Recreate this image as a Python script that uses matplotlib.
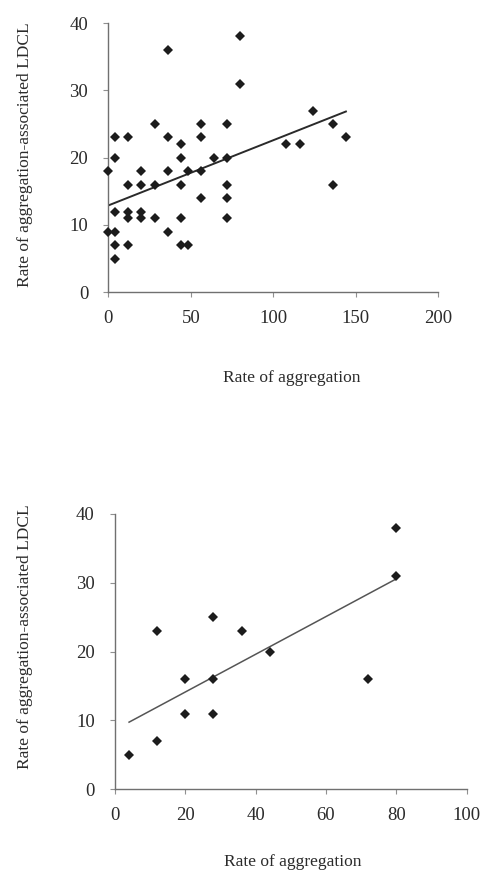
import matplotlib
matplotlib.use("Agg")
import matplotlib.pyplot as plt

# --- donnees ---
# graphe du haut
agg_top = [80, 36, 80, 28, 56, 72, 4, 12, 36, 56, 44, 108, 116, 124, 136, 144, 136,
           4, 44, 64, 72, 0, 20, 36, 48, 56, 12, 20, 28, 44, 72, 56, 72,
           4, 12, 20, 12, 20, 28, 44, 72, 0, 4, 36, 4, 12, 44, 48, 4]
ldcl_top = [38, 36, 31, 25, 25, 25, 23, 23, 23, 23, 22, 22, 22, 27, 25, 23, 16,
            20, 20, 20, 20, 18, 18, 18, 18, 18, 16, 16, 16, 16, 16, 14, 14,
            12, 12, 12, 11, 11, 11, 11, 11, 9, 9, 9, 7, 7, 7, 7, 5]
trend_top = (0.0969, 12.9)  # pente, ordonnee a l'origine

# graphe du bas
agg_bot = [4, 12, 12, 20, 20, 28, 28, 28, 36, 44, 72, 80, 80]
ldcl_bot = [5, 23, 7, 16, 11, 25, 16, 11, 23, 20, 16, 38, 31]
trend_bot = (0.274, 8.66)

xticks_top = [0, 50, 100, 150, 200]
xticks_bot = [0, 20, 40, 60, 80, 100]
yticks = [0, 10, 20, 30, 40]

xlabel = "Rate of aggregation"
ylabel = "Rate of aggregation-associated LDCL"

plt.rcParams["font.family"] = ["Liberation Serif", "DejaVu Serif"]
txt_col = "#2b2b2b"

fig = plt.figure(figsize=(4.85, 8.76), dpi=100)
fig.patch.set_facecolor("white")

W, H = 485.0, 876.0


def panel(rect, xs, ys, trend, xticks, ms, line_col, line_w, xl_pos, yl_pos):
    ax = fig.add_axes(rect)
    ax.plot(xs, ys, linestyle="none", marker="D", markersize=ms,
            color="#1c1c1c", markeredgewidth=0, zorder=3, clip_on=False)
    x0, x1 = min(xs), max(xs)
    a, b = trend
    ax.plot([x0, x1], [a * x0 + b, a * x1 + b], color=line_col, lw=line_w, zorder=2)
    ax.set_xlim(xticks[0], xticks[-1])
    ax.set_ylim(yticks[0], yticks[-1])
    ax.set_xticks(xticks)
    ax.set_yticks(yticks)
    for s in ("top", "right"):
        ax.spines[s].set_visible(False)
    for s in ("left", "bottom"):
        ax.spines[s].set_color("#707070")
        ax.spines[s].set_linewidth(1.0)
    ax.tick_params(direction="out", length=3.5, width=0.8, color="#909090",
                   labelsize=13.5, labelcolor=txt_col)
    ax.tick_params(axis="y", pad=11)
    ax.tick_params(axis="x", pad=9)
    fig.text(xl_pos[0] / W, 1 - xl_pos[1] / H, xlabel, ha="center", va="center",
             fontsize=12.5, color=txt_col)
    fig.text(yl_pos[0] / W, 1 - yl_pos[1] / H, ylabel, ha="center", va="center",
             rotation=90, fontsize=12.5, color=txt_col)
    return ax


panel([108.3 / W, 1 - 292.3 / H, 330 / W, 269.3 / H], agg_top, ldcl_top, trend_top,
      xticks_top, 5.6, "#2a2a2a", 1.4, (292, 378), (25, 155))
panel([115 / W, 1 - 789.3 / H, 351.7 / W, 275.3 / H], agg_bot, ldcl_bot, trend_bot,
      xticks_bot, 4.9, "#555555", 1.1, (293, 862), (25, 637))

fig.savefig("out.png", dpi=100, facecolor="white")
